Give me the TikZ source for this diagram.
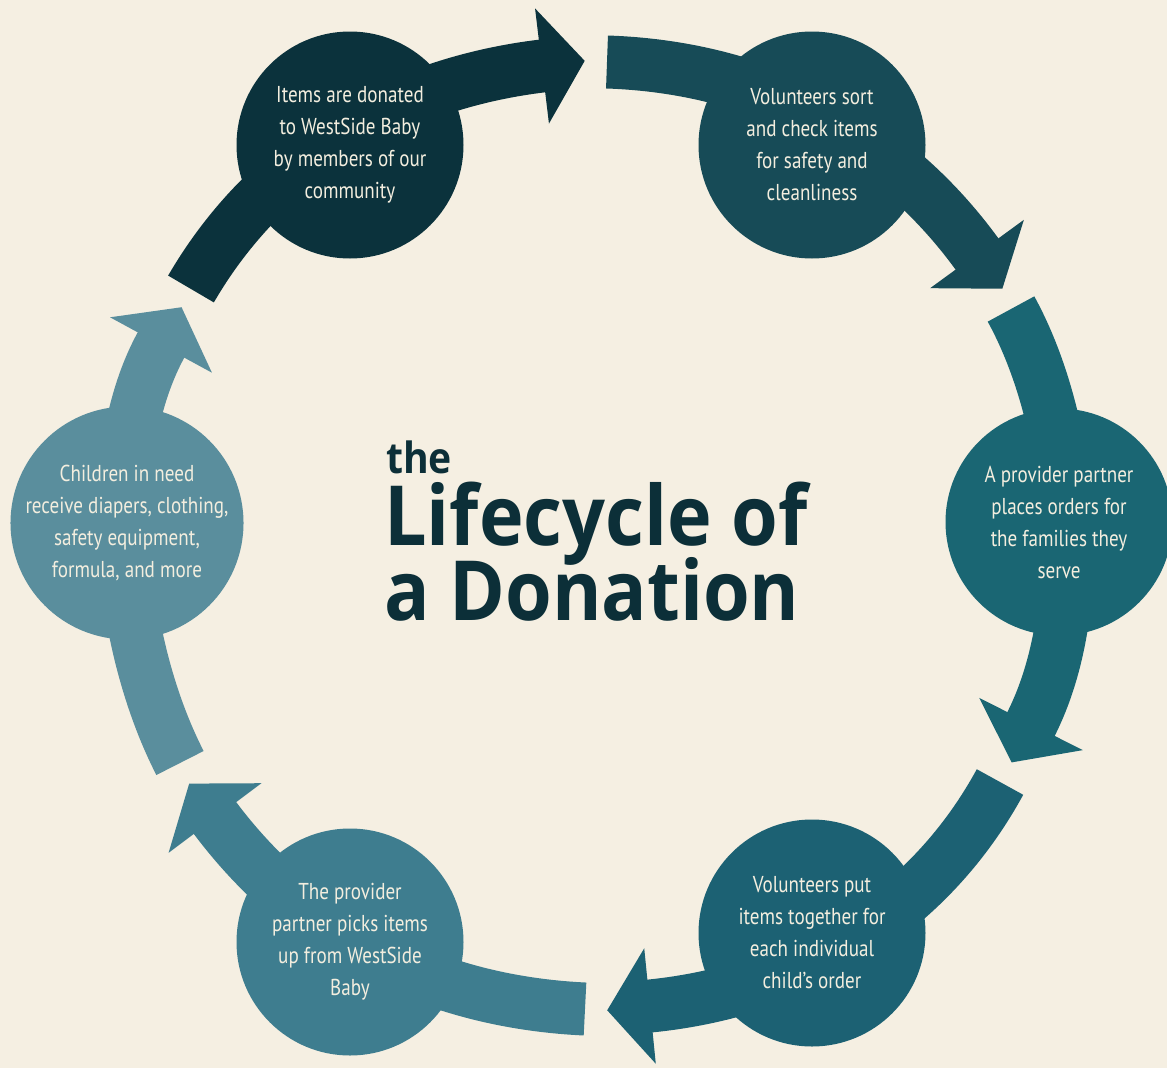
\documentclass[tikz,border=0pt]{standalone}
\usepackage{fontspec}
\setmainfont{PT Sans}[FakeStretch=0.83]
\newfontfamily\titlefont{Open Sans}[FakeStretch=0.91]
\usetikzlibrary{calc}
\definecolor{bg}{HTML}{F5EFE2}
\definecolor{cream}{HTML}{F3EEDF}
\definecolor{cA}{HTML}{0B323C}
\definecolor{cB}{HTML}{174B57}
\definecolor{cC}{HTML}{1A6673}
\definecolor{cD}{HTML}{1C6173}
\definecolor{cE}{HTML}{3E7D8F}
\definecolor{cF}{HTML}{5A8E9D}
\definecolor{titlecol}{HTML}{0C2F38}
\begin{document}
\begin{tikzpicture}[x=1pt,y=-1pt,
  band/.style={line width=53pt},
  circ/.style={circle, minimum size=227pt, inner sep=0pt, align=center,
    text=cream, font=\fontsize{23}{32}\selectfont},
  ttl/.style={anchor=base west, inner sep=0pt, text=titlecol}]
\fill[bg] (0,0) rectangle (1167,1068);
\useasboundingbox (0,0) rectangle (1167,1068);
% arrow geometry (tail, control, control, head base)
\coordinate (A0) at (191,289); \coordinate (A1) at (266,160); \coordinate (A2) at (393,84);  \coordinate (A3) at (542,66);
\coordinate (B0) at (607,62);  \coordinate (B1) at (757,67);  \coordinate (B2) at (888,132); \coordinate (B3) at (977,254);
\coordinate (C0) at (1011,309); \coordinate (C1) at (1073,422); \coordinate (C2) at (1090,607); \coordinate (C3) at (1031,724);
\coordinate (D0) at (1000,782); \coordinate (D1) at (928,914); \coordinate (D2) at (800,991); \coordinate (D3) at (650,1006);
\coordinate (E0) at (585,1009); \coordinate (E1) at (435,1002); \coordinate (E2) at (305,938); \coordinate (E3) at (215,818);
\coordinate (F0) at (180,763); \coordinate (F1) at (120,646); \coordinate (F2) at (99,459); \coordinate (F3) at (161,345);
\foreach \a/\c in {A/cA,B/cB,C/cC,D/cD,E/cE,F/cF}{
  \draw[band, draw=\c] (\a0) .. controls (\a1) and (\a2) .. (\a3) -- ($(\a3)!-2pt!(\a2)$);
  \fill[\c] ($(\a3)!-43pt!(\a2)$) -- ($(\a3)!58pt!90:(\a2)$) -- ($(\a3)!58pt!-90:(\a2)$) -- cycle;
}
% circles
\node[circ, fill=cA] (n1) at (350,145) {Items are donated\\to WestSide Baby\\by members of our\\community};
\node[circ, fill=cB] (n2) at (812,145) {Volunteers sort\\and check items\\for safety and\\cleanliness};
\node[circ, fill=cC] (n3) at (1059,522) {A provider partner\\places orders for\\the families they\\serve};
\node[circ, fill=cD] (n4) at (812,933) {Volunteers put\\items together for\\each individual\\child’s order};
\node[circ, fill=cE] (n5) at (350,942) {The provider\\partner picks items\\up from WestSide\\Baby};
\node[circ, fill=cF] (n6) at (127,523) {Children in need\\receive diapers, clothing,\\safety equipment,\\formula, and more};
% title
\node[ttl, font=\titlefont\bfseries\fontsize{43}{43}\selectfont] (t1) at (386,473) {the};
\node[ttl, font=\titlefont\bfseries\fontsize{83}{83}\selectfont] (t2) at (384,545) {Lifecycle of};
\node[ttl, font=\titlefont\bfseries\fontsize{83}{83}\selectfont] (t3) at (384,620) {a Donation};
\end{tikzpicture}
\end{document}
